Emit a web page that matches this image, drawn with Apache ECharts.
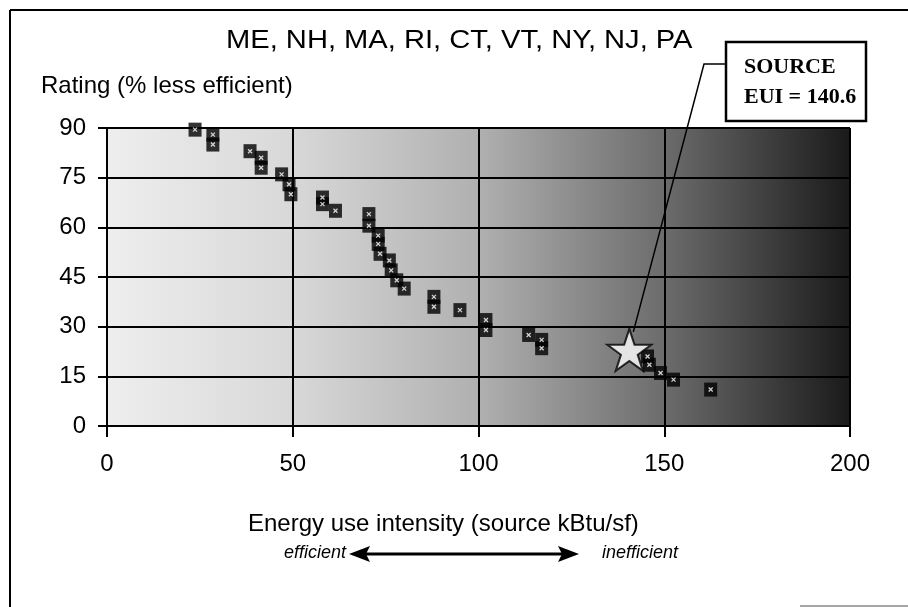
<!DOCTYPE html>
<html>
<head>
<meta charset="utf-8">
<script src="https://cdn.jsdelivr.net/npm/echarts@6/dist/echarts.min.js"></script>
<style>
html,body{margin:0;padding:0;background:#fff;}
#c{width:908px;height:607px;}
</style>
</head>
<body>
<div id="c"></div>
<script>
// ---- data ----
var titleText = 'ME, NH, MA, RI, CT, VT, NY, NJ, PA';
var yAxisName = 'Rating (% less efficient)';
var xAxisName = 'Energy use intensity (source kBtu/sf)';
var xTicks = [0, 50, 100, 150, 200];
var yTicks = [0, 15, 30, 45, 60, 75, 90];
var euiValues = [23.7, 28.5, 28.5, 38.5, 41.5, 41.5, 47, 49, 49.5, 58, 58, 61.5, 70.5, 70.5, 73, 73, 73.5, 76, 76.5, 78, 80, 88, 88, 95, 102, 102, 113.5, 117, 117, 145.5, 146, 149, 152.5, 162.5];
var ratingValues = [89.5, 88, 85, 83, 81, 78, 76, 73, 70, 69, 67, 65, 64, 60.5, 57.5, 55, 52, 50, 47, 44, 41.5, 39, 36, 35, 32, 29, 27.5, 26, 23.5, 21, 18.5, 16, 14, 11];
var sourceEUI = 140.6;
var sourceRating = 23;
var calloutLines = ['SOURCE', 'EUI = 140.6'];
var scaleLeftText = 'efficient';
var scaleRightText = 'inefficient';

var points = euiValues.map(function (x, i) { return [x, ratingValues[i]]; });
var font = 'Liberation Sans, Arial, sans-serif';
var starPath = 'path://M50,0 L61.8,36.2 L100,36.2 L69.1,58.8 L80.9,95.1 L50,72.6 L19.1,95.1 L30.9,58.8 L0,36.2 L38.2,36.2 Z';

var chart = echarts.init(document.getElementById('c'), null, {renderer: 'canvas'});
var option = {
  animation: false,
  backgroundColor: '#ffffff',
  grid: {
    left: 107, right: 58, top: 128, bottom: 181,
    show: true, borderWidth: 0,
    backgroundColor: new echarts.graphic.LinearGradient(0, 0, 1, 0, [
      {offset: 0, color: '#eeeeee'},
      {offset: 0.25, color: '#d8d8d8'},
      {offset: 0.5, color: '#b0b0b0'},
      {offset: 0.75, color: '#6c6c6c'},
      {offset: 1, color: '#1a1a1a'}
    ])
  },
  xAxis: {
    type: 'value', min: xTicks[0], max: xTicks[xTicks.length - 1], interval: 50,
    axisLine: {show: true, lineStyle: {color: '#000', width: 2}},
    axisTick: {show: true, length: 11, lineStyle: {color: '#000', width: 2}},
    axisLabel: {margin: 26, fontSize: 24, color: '#000', fontFamily: font},
    splitLine: {show: true, lineStyle: {color: '#000', width: 2}}
  },
  yAxis: {
    type: 'value', min: yTicks[0], max: yTicks[yTicks.length - 1], interval: 15,
    axisLine: {show: true, lineStyle: {color: '#000', width: 2}},
    axisTick: {show: true, length: 9, lineStyle: {color: '#000', width: 2}},
    axisLabel: {margin: 21, fontSize: 24, color: '#000', fontFamily: font},
    splitLine: {show: true, lineStyle: {color: '#000', width: 2}}
  },
  series: [
    {
      type: 'scatter', data: points, symbol: 'rect', symbolSize: [13, 14],
      itemStyle: {color: '#000'}, z: 3
    },
    {
      type: 'scatter', data: points, symbol: 'path://M0,0 L10,10 M10,0 L0,10', symbolSize: 4,
      itemStyle: {color: 'rgba(0,0,0,0)', borderColor: '#fff', borderWidth: 1.3}, z: 4, silent: true
    },
    {
      type: 'scatter', data: [[sourceEUI, sourceRating]], symbol: starPath, symbolSize: [44, 42],
      itemStyle: {color: '#fff', borderColor: '#000', borderWidth: 2}, z: 5
    }
  ]
};
chart.setOption(option);

var sp = chart.convertToPixel({gridIndex: 0}, [sourceEUI, sourceRating]);
chart.setOption({
  graphic: [
    // outer frame
    {type: 'line', shape: {x1: 10, y1: 10, x2: 908, y2: 10}, style: {stroke: '#000', lineWidth: 2}, silent: true},
    {type: 'line', shape: {x1: 10, y1: 10, x2: 10, y2: 607}, style: {stroke: '#000', lineWidth: 2}, silent: true},
    {type: 'line', shape: {x1: 800, y1: 606, x2: 908, y2: 606}, style: {stroke: '#888', lineWidth: 1.5}, silent: true},
    // title and y-axis name
    {type: 'text', left: 226, top: 28, style: {text: titleText, font: '26px ' + font, fill: '#000'}, silent: true, scaleX: 1.12, originX: 226},
    {type: 'text', left: 41, top: 74, style: {text: yAxisName, font: '24px ' + font, fill: '#000'}, silent: true},
    // x-axis name and scale
    {type: 'text', left: 248, top: 512, style: {text: xAxisName, font: '24px ' + font, fill: '#000'}, silent: true},
    {type: 'text', right: 908 - 346, top: 544, style: {text: scaleLeftText, font: 'italic 18px ' + font, fill: '#000'}, silent: true},
    {type: 'text', left: 602, top: 544, style: {text: scaleRightText, font: 'italic 18px ' + font, fill: '#000'}, silent: true},
    {type: 'line', shape: {x1: 362, y1: 554, x2: 566, y2: 554}, style: {stroke: '#000', lineWidth: 3}, silent: true},
    {type: 'polygon', shape: {points: [[349, 554], [370, 546], [366, 554], [370, 562]]}, style: {fill: '#000'}, silent: true},
    {type: 'polygon', shape: {points: [[579, 554], [558, 546], [562, 554], [558, 562]]}, style: {fill: '#000'}, silent: true},
    // callout
    {type: 'polyline', shape: {points: [[sp[0] + 4, sp[1] - 18], [704, 64], [726, 64]]}, style: {stroke: '#000', lineWidth: 1.5, fill: null}, silent: true, z: 10},
    {type: 'rect', shape: {x: 726, y: 42, width: 140, height: 79}, style: {fill: '#fff', stroke: '#000', lineWidth: 2.5}, silent: true, z: 10},
    {type: 'text', left: 744, top: 52, style: {text: calloutLines.join('\n'), font: 'bold 22px Liberation Serif, Times New Roman, serif', fill: '#000', lineHeight: 30}, silent: true, z: 11}
  ]
});
</script>
</body>
</html>
